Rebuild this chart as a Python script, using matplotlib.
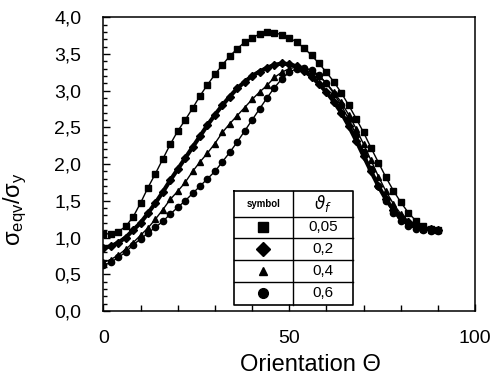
import numpy as np
import matplotlib
matplotlib.use("Agg")
import matplotlib.pyplot as plt
from matplotlib.ticker import MultipleLocator, FuncFormatter

plt.rcParams['font.family'] = ['Liberation Sans', 'DejaVu Sans']

# orientation angle (deg)
theta = list(range(0, 92, 2))

# sigma_eqv / sigma_y, one list per fibre fraction
sq_005 = [1.05, 1.05, 1.08, 1.15, 1.28, 1.47, 1.68, 1.87, 2.07, 2.27, 2.45, 2.60,
          2.76, 2.93, 3.08, 3.22, 3.35, 3.47, 3.57, 3.66, 3.72, 3.77, 3.80, 3.79,
          3.76, 3.72, 3.66, 3.58, 3.48, 3.37, 3.25, 3.12, 2.97, 2.80, 2.62, 2.43,
          2.22, 2.02, 1.82, 1.64, 1.48, 1.34, 1.23, 1.16, 1.12, 1.10]
di_02 = [0.86, 0.88, 0.93, 1.00, 1.10, 1.20, 1.33, 1.47, 1.62, 1.78, 1.93, 2.08,
         2.23, 2.38, 2.53, 2.67, 2.80, 2.92, 3.03, 3.12, 3.20, 3.26, 3.31, 3.35,
         3.37, 3.36, 3.33, 3.27, 3.19, 3.09, 2.98, 2.85, 2.70, 2.52, 2.32, 2.11,
         1.90, 1.70, 1.52, 1.38, 1.28, 1.21, 1.16, 1.13, 1.11, 1.10]
tr_04 = [0.66, 0.70, 0.76, 0.84, 0.93, 1.03, 1.13, 1.25, 1.38, 1.52, 1.63, 1.75,
         1.90, 2.03, 2.15, 2.28, 2.43, 2.55, 2.66, 2.77, 2.88, 2.98, 3.07, 3.18,
         3.25, 3.30, 3.32, 3.31, 3.27, 3.20, 3.10, 2.98, 2.84, 2.67, 2.48, 2.27,
         2.05, 1.83, 1.63, 1.46, 1.32, 1.22, 1.16, 1.12, 1.10, 1.10]
ci_06 = [0.62, 0.66, 0.73, 0.80, 0.90, 0.98, 1.06, 1.14, 1.22, 1.32, 1.41, 1.50,
         1.60, 1.70, 1.80, 1.90, 2.03, 2.16, 2.30, 2.45, 2.60, 2.75, 2.90, 3.04,
         3.16, 3.25, 3.30, 3.31, 3.28, 3.21, 3.10, 2.96, 2.80, 2.61, 2.40, 2.17,
         1.93, 1.70, 1.50, 1.34, 1.23, 1.16, 1.12, 1.10, 1.09, 1.09]

fractions = ['0,05', '0,2', '0,4', '0,6']
markers = ['s', 'D', '^', 'o']
sizes = [5.0, 4.5, 5.0, 4.5]
widths = [1.0, 3.0, 1.0, 1.0]
series = [sq_005, di_02, tr_04, ci_06]

fig = plt.figure(figsize=(4.97, 3.82), dpi=100)
ax = fig.add_axes([0.208, 0.186, 0.748, 0.769])

for vals, m, s, w in zip(series, markers, sizes, widths):
    ax.plot(theta, vals, color='black', lw=w, marker=m, ms=s,
            markerfacecolor='black', markeredgecolor='black')

ax.set_xlim(0, 100)
ax.set_ylim(0, 4)
ax.xaxis.set_major_locator(MultipleLocator(50))
ax.xaxis.set_minor_locator(MultipleLocator(10))
ax.yaxis.set_major_locator(MultipleLocator(0.5))
ax.yaxis.set_minor_locator(MultipleLocator(0.1))
ax.yaxis.set_major_formatter(FuncFormatter(lambda v, p: ('%.1f' % v).replace('.', ',')))
ax.tick_params(which='both', direction='in', top=False, right=False, width=1.0)
ax.tick_params(axis='y', which='major', length=5, labelsize=14, pad=16)
ax.tick_params(axis='y', which='minor', length=3)
ax.tick_params(axis='x', which='major', length=5, labelsize=14, pad=14)
ax.tick_params(axis='x', which='minor', length=4)
for sp in ax.spines.values():
    sp.set_linewidth(1.1)

ax.set_xlabel('Orientation Θ', fontsize=17)
ax.xaxis.set_label_coords(0.556, -0.145)
ax.set_ylabel(r'$\mathregular{\sigma_{eqv}/\sigma_y}$', fontsize=17)
ax.yaxis.set_label_coords(-0.2, 0.345)

# legend drawn as a little table
tx0, txm, tx1 = 0.351, 0.510, 0.672
rows = [0.408, 0.321, 0.248, 0.173, 0.099, 0.020]
T = ax.transAxes
ax.plot([tx0, tx1, tx1, tx0, tx0], [rows[0], rows[0], rows[-1], rows[-1], rows[0]],
        color='black', lw=1.2, transform=T, clip_on=False)
ax.plot([txm, txm], [rows[0], rows[-1]], color='black', lw=1.0, transform=T)
for r in rows[1:-1]:
    ax.plot([tx0, tx1], [r, r], color='black', lw=1.0, transform=T)
ax.text((tx0 + txm) / 2, (rows[0] + rows[1]) / 2, 'symbol', transform=T,
        ha='center', va='center', fontsize=7, fontweight='bold')
ax.text((txm + tx1) / 2, (rows[0] + rows[1]) / 2, r'$\vartheta_f$', transform=T,
        ha='center', va='center', fontsize=12)
for i, (lab, m) in enumerate(zip(fractions, markers)):
    yc = (rows[i + 1] + rows[i + 2]) / 2
    ax.plot([(tx0 + txm) / 2], [yc], marker=m, ms=7 if m != '^' else 6,
            color='black', transform=T, ls='none')
    ax.text((txm + tx1) / 2, yc, lab, transform=T, ha='center', va='center', fontsize=11)

fig.savefig('out.png', dpi=100)
